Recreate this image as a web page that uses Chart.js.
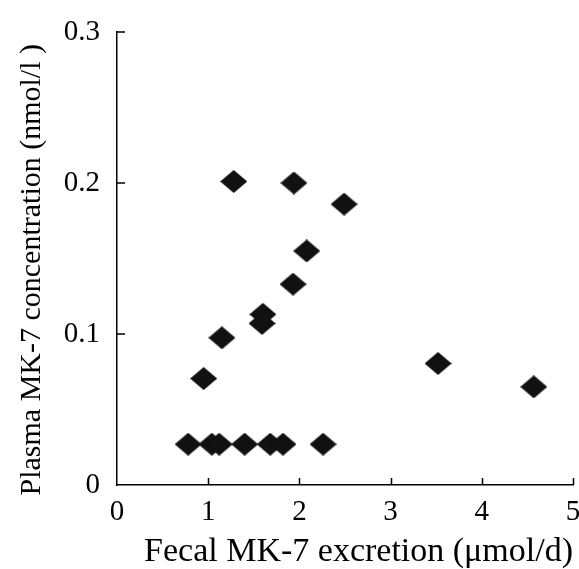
<!DOCTYPE html>
<html>
<head>
<meta charset="utf-8">
<script src="https://cdn.jsdelivr.net/npm/chart.js@4.4.1/dist/chart.umd.min.js"></script>
<style>
html,body{margin:0;padding:0;background:#fff;}
#wrap{width:579px;height:569px;position:relative;}
</style>
</head>
<body>
<div id="wrap"><canvas id="c" width="579" height="569"></canvas></div>
<script>
const fecalMK7 = [1.28, 1.94, 2.49, 2.08, 1.93, 1.60, 1.59, 1.15, 0.95, 3.52, 4.57, 0.78, 1.04, 1.12, 1.40, 1.68, 1.82, 2.26];
const plasmaMK7 = [0.201, 0.200, 0.186, 0.155, 0.133, 0.113, 0.107, 0.0975, 0.0705, 0.0805, 0.065, 0.027, 0.027, 0.027, 0.027, 0.027, 0.027, 0.027];
const xTicks = [0, 1, 2, 3, 4, 5];
const yTicks = [0, 0.1, 0.2, 0.3];
const xTitle = 'Fecal MK-7 excretion (\u03bcmol/d)';
const yTitle = 'Plasma MK-7 concentration (nmol/l )';

const points = fecalMK7.map((x, i) => ({x: x, y: plasmaMK7[i]}));

// diamond marker
const marker = document.createElement('canvas');
marker.width = 27; marker.height = 23;
(function(){
  const m = marker.getContext('2d');
  m.fillStyle = '#111';
  m.beginPath();
  m.moveTo(0, 11.5); m.lineTo(13.5, 0); m.lineTo(27, 11.5); m.lineTo(13.5, 23);
  m.closePath(); m.fill();
})();

const FONT = "'Liberation Serif', 'Times New Roman', serif";

const insideTicks = {
  id: 'insideTicks',
  afterDraw(chart) {
    const ctx = chart.ctx;
    const xs = chart.scales.x, ys = chart.scales.y;
    const ca = chart.chartArea;
    ctx.save();
    ctx.strokeStyle = '#000';
    ctx.lineWidth = 1.5;
    ctx.beginPath();
    xTicks.forEach(v => {
      if (v === 0) return;
      const px = Math.round(xs.getPixelForValue(v)) + 0.5;
      ctx.moveTo(px, ca.bottom);
      ctx.lineTo(px, ca.bottom - 7);
    });
    yTicks.forEach(v => {
      if (v === 0) return;
      const py = Math.round(ys.getPixelForValue(v));
      ctx.moveTo(ca.left, py);
      ctx.lineTo(ca.left + 8, py);
    });
    ctx.stroke();
    ctx.restore();
  }
};

new Chart(document.getElementById('c'), {
  type: 'scatter',
  data: {
    datasets: [{
      data: points,
      pointStyle: marker,
      pointRadius: 13,
      pointHoverRadius: 13,
      backgroundColor: '#111',
      borderColor: '#111'
    }]
  },
  options: {
    responsive: false,
    animation: false,
    events: [],
    layout: {autoPadding: false, padding: {left: 0, right: 6, top: 32, bottom: 0}},
    plugins: {legend: {display: false}, tooltip: {enabled: false}},
    scales: {
      x: {
        type: 'linear', min: 0, max: 5,
        afterBuildTicks(scale) { scale.ticks = xTicks.map(v => ({value: v})); },
        afterFit(scale) { scale.height = 84; scale.paddingRight = 0; scale.paddingLeft = 0; },
        grid: {display: false, drawTicks: false},
        border: {display: true, color: '#000', width: 1.5},
        ticks: {color: '#000', padding: 10, font: {family: FONT, size: 29}, maxRotation: 0, autoSkip: false},
        title: {display: true, text: xTitle, align: 'end', color: '#000', font: {family: FONT, size: 34}, padding: {top: 0, bottom: -3}}
      },
      y: {
        type: 'linear', min: 0, max: 0.3,
        afterBuildTicks(scale) { scale.ticks = yTicks.map(v => ({value: v})); },
        afterFit(scale) { scale.width = 117; scale.paddingTop = 0; scale.paddingBottom = 0; },
        grid: {display: false, drawTicks: false},
        border: {display: true, color: '#000', width: 1.5},
        ticks: {color: '#000', padding: 17, font: {family: FONT, size: 29}, callback: v => String(v)},
        title: {display: true, text: yTitle + '   ', color: '#000', font: {family: FONT, size: 30}, padding: {top: 14, bottom: 0}}
      }
    }
  },
  plugins: [insideTicks]
});
</script>
</body>
</html>
